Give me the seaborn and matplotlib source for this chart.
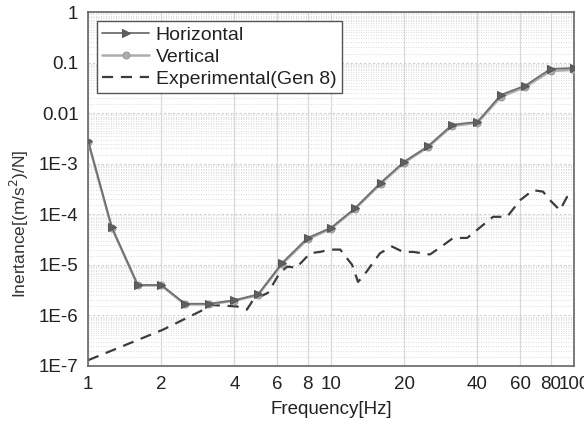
import numpy as np
import pandas as pd
import matplotlib
matplotlib.use("Agg")
import matplotlib.pyplot as plt
from matplotlib.ticker import FixedLocator, NullFormatter
import seaborn as sns

# 1/3-octave frequencies
freq = [1, 1.25, 1.6, 2, 2.5, 3.15, 4, 5, 6.3, 8, 10, 12.5, 16, 20, 25, 31.5, 40, 50, 63, 80, 100]
horizontal = [2.8e-3, 5.6e-5, 4.0e-6, 4.0e-6, 1.7e-6, 1.7e-6, 2.0e-6, 2.6e-6, 1.1e-5, 3.4e-5, 5.4e-5,
              1.3e-4, 4.2e-4, 1.1e-3, 2.2e-3, 5.9e-3, 6.7e-3, 2.3e-2, 3.5e-2, 7.5e-2, 7.8e-2]
vertical = [2.7e-3, 5.4e-5, 3.9e-6, 3.9e-6, 1.65e-6, 1.65e-6, 1.95e-6, 2.5e-6, 1.05e-5, 3.2e-5, 5.2e-5,
            1.25e-4, 4.0e-4, 1.05e-3, 2.1e-3, 5.6e-3, 6.4e-3, 2.1e-2, 3.3e-2, 6.8e-2, 7.2e-2]

exp_freq = [1, 2.03, 3.26, 4.1, 4.5, 4.77, 5.5, 6.15, 6.6, 7.2, 8.2, 9.0, 9.9, 10.9, 12.2, 12.9, 13.5,
            15.9, 17.8, 19.8, 21.8, 25.5, 28.1, 31.8, 36.3, 46.4, 53, 60, 67.8, 74.5, 79.6, 87.5, 93.5, 100]
experimental = [1.3e-7, 5.2e-7, 1.6e-6, 1.5e-6, 1.3e-6, 2.0e-6, 2.8e-6, 7.0e-6, 9.2e-6, 8.8e-6, 1.7e-5,
                1.8e-5, 2.0e-5, 2.0e-5, 1.0e-5, 4.6e-6, 5.8e-6, 1.7e-5, 2.3e-5, 1.8e-5, 1.8e-5, 1.6e-5,
                2.2e-5, 3.4e-5, 3.4e-5, 8.9e-5, 8.9e-5, 1.9e-4, 3.0e-4, 2.8e-4, 1.9e-4, 1.2e-4, 2.2e-4, 2.4e-4]

df = pd.DataFrame({"Frequency": freq, "Horizontal": horizontal, "Vertical": vertical})
exp_df = pd.DataFrame({"Frequency": exp_freq, "Experimental": experimental})

sns.set_style("white")
plt.rcParams["font.family"] = ["Liberation Sans", "DejaVu Sans"]
plt.rcParams["font.size"] = 13

fig, ax = plt.subplots(figsize=(5.84, 4.29), dpi=100)
fig.subplots_adjust(left=0.151, right=0.983, top=0.972, bottom=0.147)

sns.lineplot(data=df, x="Frequency", y="Vertical", ax=ax, color="#adadad", marker="o",
             markersize=5, markeredgecolor="#999999", linewidth=1.8, label="Vertical", zorder=3)
sns.lineplot(data=df, x="Frequency", y="Horizontal", ax=ax, color="#707070", marker=">",
             markersize=6, markeredgecolor="#555555", markerfacecolor="#606060", linewidth=1.3,
             label="Horizontal", zorder=4)
sns.lineplot(data=exp_df, x="Frequency", y="Experimental", ax=ax, color="#3c3c3c",
             linestyle=(0, (5, 3.5)), linewidth=1.6, label="Experimental(Gen 8)", zorder=2)

ax.set_xscale("log")
ax.set_yscale("log")
ax.set_xlim(1, 100)
ax.set_ylim(1e-7, 1)

xt = [1, 2, 4, 6, 8, 10, 20, 40, 60, 80, 100]
ax.xaxis.set_major_locator(FixedLocator(xt))
ax.set_xticklabels([str(v) for v in xt])
ax.xaxis.set_minor_locator(FixedLocator([]))

yt = [1e-7, 1e-6, 1e-5, 1e-4, 1e-3, 1e-2, 1e-1, 1]
ax.yaxis.set_major_locator(FixedLocator(yt))
ax.set_yticklabels(["1E-7", "1E-6", "1E-5", "1E-4", "1E-3", "0.01", "0.1", "1"])
ymin = [m * 10.0 ** e for e in range(-7, 0) for m in np.arange(1.5, 10, 0.5)]
ax.yaxis.set_minor_locator(FixedLocator(ymin))
ax.yaxis.set_minor_formatter(NullFormatter())

ax.grid(True, which="major", axis="x", color="#d8d8d8", linewidth=0.9)
ax.grid(True, which="major", axis="y", color="#cfcfcf", linewidth=0.8, linestyle=(0, (2, 2)))
ax.grid(True, which="minor", axis="y", color="#d0d0d0", linewidth=0.6, linestyle=(0, (1, 2)))

ax.tick_params(axis="both", which="major", direction="inout", length=7, width=1, colors="#333333",
               labelsize=13.5, labelcolor="#222222")
ax.tick_params(axis="y", which="minor", direction="in", length=3, width=0.6, colors="#444444")
ax.tick_params(top=False, right=False)
for s in ax.spines.values():
    s.set_color("#666666")
    s.set_linewidth(1.2)

ax.set_xlabel("Frequency[Hz]", fontsize=13.5, labelpad=6, color="#222222")
ax.set_ylabel("Inertance[(m/s$^2$)/N]", fontsize=12.5, color="#333333")
ax.yaxis.set_label_coords(-0.118, 0.4)

h, l = ax.get_legend_handles_labels()
order = [l.index("Horizontal"), l.index("Vertical"), l.index("Experimental(Gen 8)")]
leg = ax.legend([h[i] for i in order], [l[i] for i in order], loc="upper left", fontsize=14,
                frameon=True, fancybox=False, edgecolor="#555555", framealpha=1, borderaxespad=0.45,
                handlelength=2.4, handletextpad=0.35, labelspacing=0.22, borderpad=0.28)
leg.get_frame().set_linewidth(1.0)
for t in leg.get_texts():
    t.set_color("#222222")

fig.savefig("out.png", dpi=100)
